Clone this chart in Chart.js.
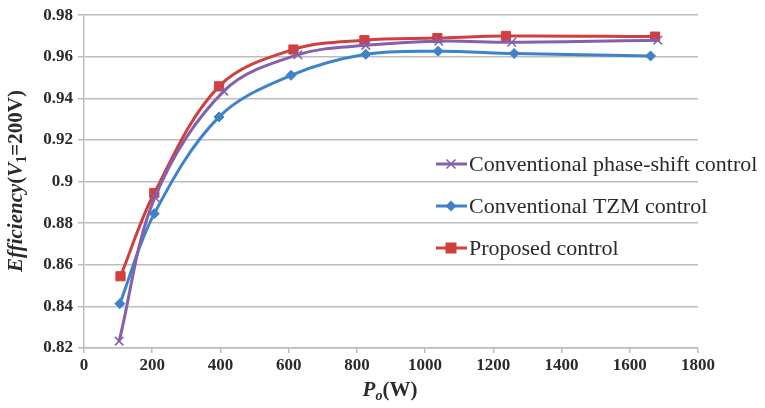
<!DOCTYPE html>
<html>
<head>
<meta charset="utf-8">
<script src="https://cdn.jsdelivr.net/npm/chart.js@4/dist/chart.umd.min.js"></script>
<style>
  html, body { margin: 0; padding: 0; background: #fff; }
  #wrap { width: 765px; height: 408px; }
</style>
</head>
<body>
<div id="wrap"><canvas id="effChart" width="765" height="408"></canvas></div>
<script>
// values
const seriesNames = ['Conventional phase-shift control', 'Conventional TZM control', 'Proposed control'];

const phaseShiftX = [103, 208, 410, 627, 826, 1040, 1254, 1682];
const phaseShiftY = [0.8233, 0.8925, 0.9435, 0.9610, 0.9655, 0.9675, 0.9670, 0.9680];

const tzmX = [105, 206, 396, 607, 826, 1038, 1261, 1661];
const tzmY = [0.8413, 0.8846, 0.9311, 0.9511, 0.9612, 0.9627, 0.9616, 0.9604];

const proposedX = [107, 206, 396, 614, 822, 1036, 1237, 1674];
const proposedY = [0.8545, 0.8945, 0.9458, 0.9635, 0.9680, 0.9690, 0.9700, 0.9697];

const xTicks = [0, 200, 400, 600, 800, 1000, 1200, 1400, 1600, 1800];
const yTicks = [0.82, 0.84, 0.86, 0.88, 0.9, 0.92, 0.94, 0.96, 0.98];

const FONT = '"Liberation Serif", "Times New Roman", serif';
const GRID = '#bdbdbd';
const INK = '#2a2a2a';

const toPoints = (xs, ys) => xs.map((x, i) => ({x: x, y: ys[i]}));

const datasets = [
  {
    label: seriesNames[0],
    data: toPoints(phaseShiftX, phaseShiftY),
    borderColor: '#8560ac',
    backgroundColor: '#8560ac',
    pointStyle: 'crossRot',
    pointRadius: 6,
    pointBorderWidth: 1.5,
  },
  {
    label: seriesNames[1],
    data: toPoints(tzmX, tzmY),
    borderColor: '#3f82c9',
    backgroundColor: '#3f82c9',
    pointStyle: 'rectRot',
    pointRadius: 5,
    pointBorderWidth: 1,
  },
  {
    label: seriesNames[2],
    data: toPoints(proposedX, proposedY),
    borderColor: '#d0403f',
    backgroundColor: '#d0403f',
    pointStyle: 'rect',
    pointRadius: 6.5,
    pointBorderWidth: 1,
  },
].map(d => Object.assign(d, {showLine: true, borderWidth: 3, tension: 0.35}));

// simple marker painter for the legend
function marker(ctx, style, x, y, r, color) {
  ctx.save();
  ctx.fillStyle = color;
  ctx.strokeStyle = color;
  ctx.lineWidth = 1.5;
  ctx.beginPath();
  if (style === 'rect') {
    ctx.rect(x - r, y - r, 2 * r, 2 * r);
    ctx.fill();
  } else if (style === 'rectRot') {
    ctx.moveTo(x, y - r); ctx.lineTo(x + r, y); ctx.lineTo(x, y + r); ctx.lineTo(x - r, y);
    ctx.closePath();
    ctx.fill();
  } else {
    ctx.moveTo(x - r, y - r); ctx.lineTo(x + r, y + r);
    ctx.moveTo(x + r, y - r); ctx.lineTo(x - r, y + r);
    ctx.stroke();
  }
  ctx.restore();
}

const legendInside = {
  id: 'legendInside',
  afterDraw(chart) {
    const ctx = chart.ctx;
    const left = chart.chartArea.left + 352;
    const rows = [164, 206, 248];
    chart.data.datasets.forEach((ds, i) => {
      const y = rows[i];
      ctx.save();
      ctx.strokeStyle = ds.borderColor;
      ctx.lineWidth = 3;
      ctx.beginPath();
      ctx.moveTo(left, y);
      ctx.lineTo(left + 31, y);
      ctx.stroke();
      marker(ctx, ds.pointStyle, left + 15, y, ds.pointStyle === 'crossRot' ? 4.5 : 5.5, ds.borderColor);
      ctx.fillStyle = INK;
      ctx.font = '22px ' + FONT;
      ctx.textBaseline = 'middle';
      ctx.fillText(ds.label, left + 33, y + 1);
      ctx.restore();
    });
  }
};

// axis titles with italics and subscripts
function richText(ctx, parts, cx, cy) {
  const fontOf = p => (p.italic ? 'italic ' : '') + 'bold ' + (p.sub ? 14 : 21) + 'px ' + FONT;
  let total = 0;
  parts.forEach(p => { ctx.font = fontOf(p); total += ctx.measureText(p.t).width; });
  let x = cx - total / 2;
  parts.forEach(p => {
    ctx.font = fontOf(p);
    ctx.fillText(p.t, x, cy + (p.sub ? 5 : 0));
    x += ctx.measureText(p.t).width;
  });
}

const axisTitles = {
  id: 'axisTitles',
  afterDraw(chart) {
    const ctx = chart.ctx;
    ctx.save();
    ctx.fillStyle = INK;
    ctx.textBaseline = 'middle';
    richText(ctx, [
      {t: 'P', italic: true}, {t: 'o', italic: true, sub: true}, {t: '(W)'}
    ], 390, 391);
    ctx.translate(17, 181);
    ctx.rotate(-Math.PI / 2);
    richText(ctx, [
      {t: 'Efficiency', italic: true}, {t: '('}, {t: 'V', italic: true},
      {t: '1', sub: true}, {t: '=200V)'}
    ], 0, 0);
    ctx.restore();
  }
};

const tickFont = {family: FONT, size: 17, weight: 'bold'};

new Chart('effChart', {
  type: 'scatter',
  data: {datasets: datasets},
  options: {
    responsive: false,
    animation: false,
    layout: {padding: {top: 15, right: 67, left: 0, bottom: 0}},
    plugins: {legend: {display: false}, tooltip: {enabled: false}},
    scales: {
      x: {
        type: 'linear',
        min: xTicks[0],
        max: xTicks[xTicks.length - 1],
        afterBuildTicks: s => { s.ticks = xTicks.map(v => ({value: v})); },
        afterFit: s => { s.height = 60; },
        grid: {drawOnChartArea: false, drawTicks: true, tickLength: 5, color: GRID, lineWidth: 1.5},
        border: {color: GRID, width: 1.5},
        ticks: {font: tickFont, color: INK, padding: 2, maxRotation: 0, callback: v => String(v)}
      },
      y: {
        type: 'linear',
        min: yTicks[0],
        max: yTicks[yTicks.length - 1],
        afterBuildTicks: s => { s.ticks = yTicks.map(v => ({value: v})); },
        afterFit: s => { s.width = 84; },
        grid: {color: GRID, lineWidth: 1.5, tickLength: 6},
        border: {color: GRID, width: 1.5},
        ticks: {font: tickFont, color: INK, padding: 5, callback: v => String(+v.toFixed(2))}
      }
    }
  },
  plugins: [legendInside, axisTitles]
});
</script>
</body>
</html>
